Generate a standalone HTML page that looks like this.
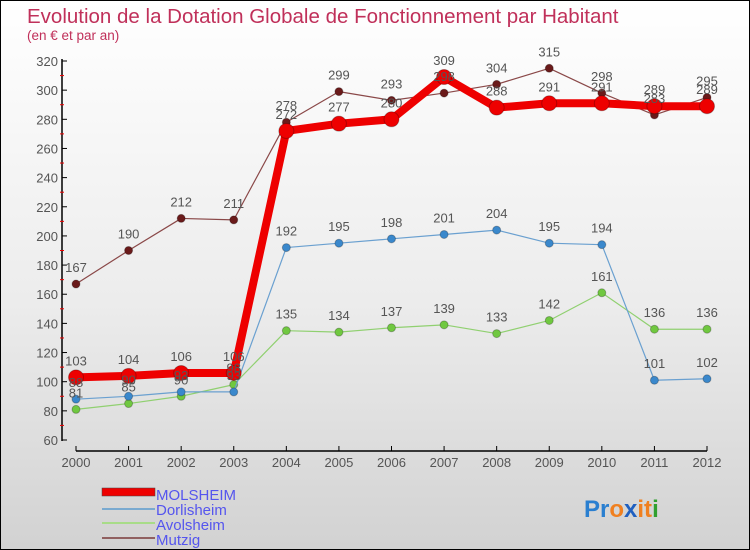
<!DOCTYPE html>
<html><head><meta charset="utf-8"><style>
html,body{margin:0;padding:0}
body{width:750px;height:550px;overflow:hidden;font-family:"Liberation Sans",sans-serif}
#wrap{position:relative;width:748px;height:548px;border:1px solid #000;background:linear-gradient(#ffffff 0%,#ececec 55%,#d2d2d2 100%)}
</style></head><body>
<div id="wrap">
<svg id="chart" width="748" height="548" style="position:absolute;left:0;top:0">
<text x="26" y="22" font-size="20.5" fill="#c0305a">Evolution de la Dotation Globale de Fonctionnement par Habitant</text>
<text x="26" y="39" font-size="13.5" fill="#c0305a">(en € et par an)</text>
<g id="axes"></g><g id="series"></g><g id="labels"></g>
<g>
<rect x="101" y="487" width="53" height="8" fill="#e00" stroke="#444" stroke-width="0.5"/>
<text x="155" y="499" font-size="15" fill="#5555ee">MOLSHEIM</text>
<line x1="101" y1="508" x2="154" y2="508" stroke="#7aaad0" stroke-width="2"/>
<text x="155" y="514" font-size="15" fill="#5555ee">Dorlisheim</text>
<line x1="101" y1="522" x2="154" y2="522" stroke="#a8dc88" stroke-width="2"/>
<text x="155" y="529" font-size="15" fill="#5555ee">Avolsheim</text>
<line x1="101" y1="537" x2="154" y2="537" stroke="#906060" stroke-width="2"/>
<text x="155" y="544" font-size="15" fill="#5555ee">Mutzig</text>
</g>
<text x="583" y="516" font-size="24" font-weight="bold"><tspan fill="#2a7fd0">Pr</tspan><tspan fill="#f08020">o</tspan><tspan fill="#2060c0">x</tspan><tspan fill="#f08020">it</tspan><tspan fill="#30a030">i</tspan></text>
</svg>
</div>
<script>
const years=[2000,2001,2002,2003,2004,2005,2006,2007,2008,2009,2010,2011,2012];
const molsheim=[103,104,106,106,272,277,280,309,288,291,291,289,289];
const dorlisheim=[88,90,93,93,192,195,198,201,204,195,194,101,102];
const avolsheim=[81,85,90,98,135,134,137,139,133,142,161,136,136];
const mutzig=[167,190,212,211,278,299,293,298,304,315,298,283,295];
const yTicks=[60,80,100,120,140,160,180,200,220,240,260,280,300,320];
const NS="http://www.w3.org/2000/svg";
const x0=75,xStep=(706-75)/12;
function X(i){return x0+i*xStep;}
function Y(v){return 439-(v-60)*(379/260);}
function mk(tag,attrs,parent){const e=document.createElementNS(NS,tag);for(const k in attrs)e.setAttribute(k,attrs[k]);parent.appendChild(e);return e;}
const axes=document.getElementById('axes'),ser=document.getElementById('series'),lab=document.getElementById('labels');
let l=mk('line',{x1:61,y1:58,x2:61,y2:440,stroke:'#000','stroke-width':1.5},axes);


l=mk('line',{x1:75,y1:450,x2:706,y2:450,stroke:'#000','stroke-width':1.5},axes);


yTicks.forEach((v,i)=>{
  mk('line',{x1:61,y1:Y(v),x2:66,y2:Y(v),stroke:'#000'},axes);
  if(i<yTicks.length-1)mk('line',{x1:59,y1:Y(v+10),x2:63,y2:Y(v+10),stroke:'#e00'},axes);
  const t=mk('text',{x:57,y:Y(v)+5,'font-size':13,fill:'#555','text-anchor':'end'},axes);
  t.textContent=v;
  
  
});
years.forEach((y,i)=>{
  mk('line',{x1:X(i),y1:445,x2:X(i),y2:450,stroke:'#000'},axes);
  const t=mk('text',{x:X(i),y:466,'font-size':13,fill:'#555','text-anchor':'middle'},axes);
  t.textContent=y;
  
  
});
function series(data,name,color,w,r,dot){
  const pts=data.map((v,i)=>X(i)+','+Y(v)).join(' ');
  const p=mk('polyline',{points:pts,fill:'none',stroke:color,'stroke-width':w,'stroke-linejoin':'round'},ser);
  
  
  data.forEach((v,i)=>{
    const c=mk('circle',{cx:X(i),cy:Y(v),r:r,fill:dot,stroke:'rgba(0,0,0,0.25)','stroke-width':1},ser);
    
    
    const t=mk('text',{x:X(i),y:Y(v)-12,'font-size':13,fill:'#555','text-anchor':'middle'},lab);
    t.textContent=v;
    
    
  });
}
series(mutzig,'mutzig','#8a4848',1.2,4,'#6a1a1a');
series(avolsheim,'avolsheim','#90d070',1.2,4,'#70c840');
series(dorlisheim,'dorlisheim','#6aa0d0',1.2,4,'#3a88cc');
series(molsheim,'molsheim','#ee0000',8,7.5,'#ee0000');
</script>
</body></html>
